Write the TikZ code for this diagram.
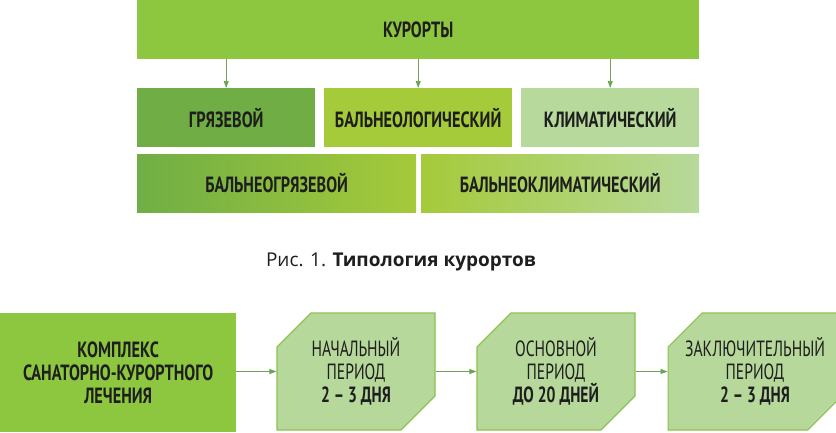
\documentclass[tikz,border=0pt]{standalone}
\usepackage{fontspec}
\setmainfont{PT Sans}
\newfontfamily\condfont[FakeStretch=0.74]{PT Sans}
\newfontfamily\phasefont[FakeStretch=0.71]{PT Sans}
\newfontfamily\capfont{Open Sans}
\usetikzlibrary{shapes.misc,arrows.meta}
\definecolor{gTop}{HTML}{8DC63F}
\definecolor{gDark}{HTML}{70AE45}
\definecolor{gYel}{HTML}{A5CA3A}
\definecolor{gLight}{HTML}{B7D99B}
\definecolor{gPhase}{HTML}{B6D89B}
\definecolor{gEdge}{HTML}{8DC24F}
\definecolor{gArrow}{HTML}{6FA457}
\definecolor{txt}{HTML}{1E1E1E}
\tikzset{
  box/.style={anchor=north west, inner sep=0pt, text=txt, align=center,
    font=\condfont\bfseries\fontsize{22}{23}\selectfont},
  phase/.style={chamfered rectangle, chamfered rectangle corners={north west,south east},
    chamfered rectangle xsep=17pt, chamfered rectangle ysep=17pt,
    minimum width=158pt, minimum height=117pt, inner sep=0pt,
    fill=gPhase, draw=gEdge, line width=1.1pt, text=txt, align=center,
    font=\phasefont\fontsize{22}{23}\selectfont},
  arr/.style={draw=gArrow, line width=0.8pt, -{Triangle[length=7pt,width=5pt]}}
}
\begin{document}
\begin{tikzpicture}[x=1pt,y=-1pt]
\useasboundingbox (0,0) rectangle (836,432);
% top part
\node[box, fill=gTop, minimum width=562pt, minimum height=59pt] (top) at (137,0) {КУРОРТЫ};
\node[box, fill=gDark, minimum width=178pt, minimum height=59pt] (mud) at (137,88) {ГРЯЗЕВОЙ};
\node[box, fill=gYel, minimum width=188pt, minimum height=59pt] (bal) at (324,88) {БАЛЬНЕОЛОГИЧЕСКИЙ};
\node[box, fill=gLight, minimum width=178pt, minimum height=59pt] (cli) at (521,88) {КЛИМАТИЧЕСКИЙ};
\node[box, left color=gDark, right color=gYel, minimum width=279pt, minimum height=58pt] (balmud) at (137,154) {БАЛЬНЕОГРЯЗЕВОЙ};
\node[box, left color=gYel, right color=gLight, minimum width=278pt, minimum height=58pt] (balcli) at (421,154) {БАЛЬНЕОКЛИМАТИЧЕСКИЙ};
\draw[arr] (top.south -| mud.north) -- (mud.north);
\draw[arr] (top.south -| bal.north) -- (bal.north);
\draw[arr] (top.south -| cli.north) -- (cli.north);
% caption
\node[text=txt, font=\capfont\fontsize{19}{22}\selectfont] (cap) at (401,262) {Рис. 1. \textbf{Типология курортов}};
% bottom part
\node[box, fill=gTop, minimum width=236pt, minimum height=119pt] (cx) at (0,313) {КОМПЛЕКС\\САНАТОРНО-КУРОРТНОГО\\ЛЕЧЕНИЯ};
\node[phase] (p1) at (356,371.5) {НАЧАЛЬНЫЙ\\ПЕРИОД\\\textbf{2 – 3 ДНЯ}};
\node[phase] (p2) at (556,371.5) {ОСНОВНОЙ\\ПЕРИОД\\\textbf{ДО 20 ДНЕЙ}};
\node[phase, minimum width=156pt] (p3) at (755,371.5) {ЗАКЛЮЧИТЕЛЬНЫЙ\\ПЕРИОД\\\textbf{2 – 3 ДНЯ}};
\draw[arr] (cx.east |- p1.west) -- (p1.west);
\draw[arr] (p1.east) -- (p2.west);
\draw[arr] (p2.east) -- (p3.west);
\end{tikzpicture}
\end{document}
